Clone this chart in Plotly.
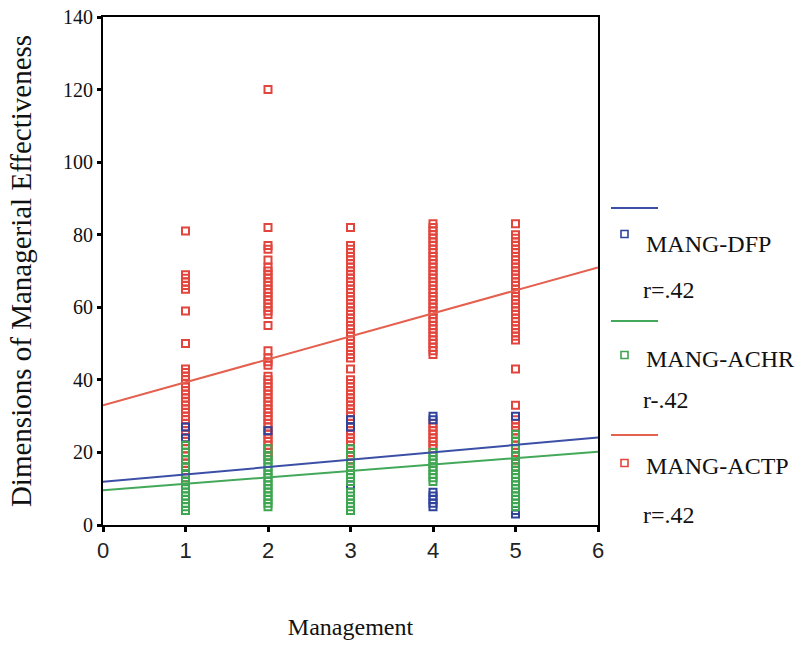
import plotly.graph_objects as go

# ---------------- data ----------------
levels = [1, 2, 3, 4, 5]

# MANG-ACTP (red)
actp_by_level = {
    1: [81, 69, 68, 67, 66, 65, 59, 50, 43, 42, 41, 40, 39, 38, 37, 36, 35, 34, 33, 32,
        31, 30, 29, 28, 27, 26, 25, 24, 23, 22, 21, 20, 19, 18, 17, 16, 15, 14, 13],
    2: [120, 82, 77, 76, 73, 71, 70, 69, 68, 67, 66, 65, 64, 63, 62, 61, 60, 59, 58, 55,
        48, 46, 45, 44, 41, 40, 39, 38, 37, 36, 35, 34, 33, 32, 31, 30, 29, 28, 27, 26,
        25, 24, 23, 22, 21, 20, 19],
    3: [82, 77, 76, 75, 74, 73, 72, 71, 70, 69, 68, 67, 66, 65, 64, 63, 62, 61, 60, 59,
        58, 57, 56, 55, 54, 53, 52, 51, 50, 49, 48, 47, 46, 43, 40, 39, 38, 37, 36, 35,
        34, 33, 32, 31, 30, 29, 28, 27, 26, 25, 24, 23, 22, 21, 20, 19, 18, 17, 16, 15],
    4: [83, 82, 81, 80, 79, 78, 77, 76, 75, 74, 73, 72, 71, 70, 69, 68, 67, 66, 65, 64,
        63, 62, 61, 60, 59, 58, 57, 56, 55, 54, 53, 52, 51, 50, 49, 48, 47,
        28, 27, 26, 25, 24, 23, 22, 21],
    5: [83, 80, 79, 78, 77, 76, 75, 74, 73, 72, 71, 70, 69, 68, 67, 66, 65, 64, 63, 62,
        61, 60, 59, 58, 57, 56, 55, 54, 53, 52, 51, 43, 33, 29, 28, 27, 26, 25, 24, 23,
        22, 21, 20, 19, 18, 17, 16, 15],
}
# MANG-DFP (blue)
dfp_by_level = {
    1: [27, 24, 14, 4],
    2: [26],
    3: [29, 27, 11],
    4: [30, 29, 9, 8, 7, 6, 5],
    5: [30, 4, 3],
}
# MANG-ACHR (green)
achr_by_level = {
    1: [22, 20, 18, 16, 14, 12, 11, 10, 9, 8, 7, 6, 5, 4],
    2: [21, 19, 18, 17, 16, 15, 14, 13, 12, 11, 10, 9, 8, 7, 6, 5],
    3: [21, 19, 17, 16, 15, 14, 13, 12, 9, 8, 7, 6, 5, 4],
    4: [20, 19, 18, 17, 16, 15, 14, 13, 12],
    5: [25, 23, 21, 19, 17, 16, 15, 14, 13, 12, 11, 10, 9, 8, 7, 6, 5],
}

# fitted regression lines (value at x=0 and x=6)
fit_x = [0, 6]
fit_dfp = [11.9, 24.1]
fit_achr = [9.6, 20.2]
fit_actp = [33.0, 71.0]

series_names = ["MANG-DFP", "MANG-ACHR", "MANG-ACTP"]
r_labels = ["r=.42", "r-.42", "r=.42"]
x_ticks = [0, 1, 2, 3, 4, 5, 6]
y_ticks = [0, 20, 40, 60, 80, 100, 120, 140]

# ---------------- style ----------------
BLUE = "#2f439c"
GREEN = "#3ea550"
RED = "#e2453c"
RED_LINE = "#e4604f"
BLUE_LINE = "#3c4fa6"
GREEN_LINE = "#44a85a"

W, H = 799, 647
L, R, T, B = 103, 201, 17, 122
PW, PH = W - L - R, H - T - B


def px2x(px):
    return (px - L) / PW


def py2y(py):
    return (H - B - py) / PH


def flatten(d):
    xs, ys = [], []
    for lv in levels:
        for v in d[lv]:
            xs.append(lv)
            ys.append(v)
    return xs, ys


fig = go.Figure()

for d, col in [(actp_by_level, RED), (dfp_by_level, BLUE), (achr_by_level, GREEN)]:
    xs, ys = flatten(d)
    fig.add_trace(go.Scatter(
        x=xs, y=ys, mode="markers",
        marker=dict(symbol="square-open", size=7, color=col, line=dict(width=2, color=col)),
        showlegend=False, hoverinfo="skip"))

for fy, col in [(fit_dfp, BLUE_LINE), (fit_achr, GREEN_LINE), (fit_actp, RED_LINE)]:
    fig.add_trace(go.Scatter(x=fit_x, y=fy, mode="lines",
                             line=dict(color=col, width=2),
                             showlegend=False, hoverinfo="skip"))

# ---------------- legend (manual) ----------------
legend_rows = [
    # line_y, square_y, name_y, r_y, color(line), color(marker)
    (208, 234, 244, 290, BLUE_LINE, BLUE),
    (321, 355, 359, 400, GREEN_LINE, GREEN),
    (435, 463, 466, 515, RED_LINE, RED),
]
shapes = []
annotations = []
for i, (ly, sy, ny, ry, lc, mc) in enumerate(legend_rows):
    shapes.append(dict(type="line", xref="paper", yref="paper",
                       x0=px2x(611), x1=px2x(658), y0=py2y(ly), y1=py2y(ly),
                       line=dict(color=lc, width=1.8)))
    shapes.append(dict(type="rect", xref="paper", yref="paper",
                       x0=px2x(621), x1=px2x(628), y0=py2y(sy + 3.5), y1=py2y(sy - 3.5),
                       line=dict(color=mc, width=1.6), fillcolor="rgba(0,0,0,0)"))
    annotations.append(dict(xref="paper", yref="paper", x=px2x(644), y=py2y(ny),
                            xanchor="left", yanchor="middle", showarrow=False,
                            text=series_names[i],
                            font=dict(family="Liberation Serif", size=24, color="#111")))
    annotations.append(dict(xref="paper", yref="paper", x=px2x(641), y=py2y(ry),
                            xanchor="left", yanchor="middle", showarrow=False,
                            text=r_labels[i],
                            font=dict(family="Liberation Serif", size=24, color="#111")))

fig.update_layout(
    width=W, height=H,
    margin=dict(l=L, r=R, t=T, b=B, autoexpand=False),
    paper_bgcolor="white", plot_bgcolor="white",
    shapes=shapes, annotations=annotations,
    showlegend=False,
)

fig.update_xaxes(
    range=[0, 6], tickvals=x_ticks, ticktext=[str(t) for t in x_ticks],
    showgrid=False, zeroline=False,
    showline=True, linecolor="black", linewidth=2, mirror=True,
    ticks="outside", ticklen=5, tickwidth=3, tickcolor="black",
    tickfont=dict(family="Liberation Sans", size=22, color="#222"),
    title=dict(text="Management", standoff=56,
               font=dict(family="Liberation Serif", size=24, color="#111")),
    automargin=False,
)
fig.update_yaxes(
    range=[0, 140], tickvals=y_ticks, ticktext=[str(t) for t in y_ticks],
    showgrid=False, zeroline=False,
    showline=True, linecolor="black", linewidth=2, mirror=True,
    ticks="outside", ticklen=4, tickwidth=3, tickcolor="black",
    tickfont=dict(family="Liberation Serif", size=20, color="#111"),
    title=dict(text="Dimensions of Managerial Effectiveness", standoff=23,
               font=dict(family="Liberation Serif", size=29, color="#111")),
    automargin=False,
)

fig.write_html("out.html")
